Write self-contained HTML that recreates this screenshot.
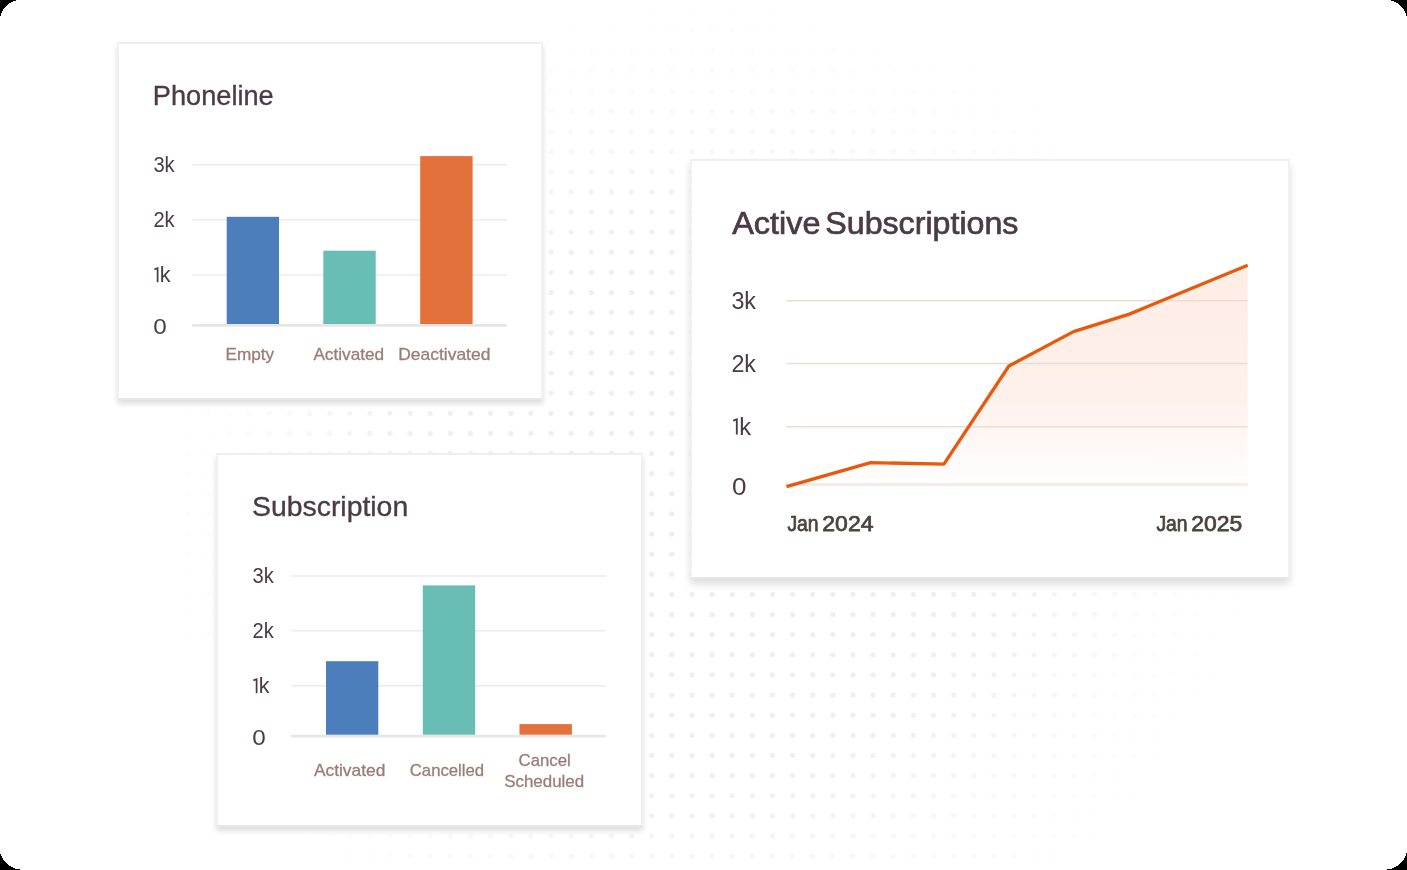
<!DOCTYPE html>
<html lang="en">
<head>
<meta charset="utf-8">
<title>Dashboard charts</title>
<style>
  html, body { margin: 0; padding: 0; }
  body {
    width: 1407px; height: 870px; overflow: hidden; position: relative;
    background: #ffffff;
    font-family: "Liberation Sans", sans-serif;
  }
  svg { position: absolute; left: 0; top: 0; display: block; }
  #fg { will-change: transform; }
  .card {
    position: absolute; box-sizing: border-box;
    background: #ffffff;
    border: 2px solid #f1f1f1; border-top-color: #efefef; border-bottom-color: #e7e7e7;
  }
  .c1 { left: 117px; top: 42px; width: 426px; height: 358px;
        box-shadow: 0 4px 5.5px rgba(0,0,0,0.135); }
  .c2 { left: 216px; top: 453px; width: 427px; height: 374px;
        box-shadow: 0 4px 5.5px rgba(0,0,0,0.135); }
  .c3 { left: 690px; top: 159px; width: 600px; height: 420px;
        box-shadow: 0 5px 7.5px rgba(0,0,0,0.135); }
  text { font-family: "Liberation Sans", sans-serif; }
  .title { fill: #4a3b44; stroke: #4a3b44; stroke-width: 0.35px; }
  .t3 { stroke-width: 0.7px; }
  .ax { fill: #4a3b44; }
  .xl { fill: #9a7d75; stroke: #9a7d75; stroke-width: 0.3px; }
  .dt { fill: #4b433f; stroke: #4b433f; stroke-width: 0.75px; }
</style>
</head>
<body>

<!-- dotted background -->
<svg id="bg" width="1407" height="870" viewBox="0 0 1407 870">
  <defs>
    <pattern id="dots" x="-2.56" y="0.63" width="20.13" height="20.13" patternUnits="userSpaceOnUse">
      <circle cx="10.065" cy="10.065" r="2.55" fill="#f0edec"/>
    </pattern>
    <radialGradient id="fade" gradientUnits="userSpaceOnUse" cx="703" cy="505" r="565" gradientTransform="translate(703 505) scale(1 0.92) translate(-703 -505)">
      <stop offset="0" stop-color="#fff" stop-opacity="1"/>
      <stop offset="0.48" stop-color="#fff" stop-opacity="0.95"/>
      <stop offset="0.60" stop-color="#fff" stop-opacity="0.75"/>
      <stop offset="0.70" stop-color="#fff" stop-opacity="0.48"/>
      <stop offset="0.80" stop-color="#fff" stop-opacity="0.25"/>
      <stop offset="0.90" stop-color="#fff" stop-opacity="0.10"/>
      <stop offset="1" stop-color="#fff" stop-opacity="0"/>
    </radialGradient>
    <mask id="m" maskUnits="userSpaceOnUse" x="0" y="0" width="1407" height="870">
      <rect width="1407" height="870" fill="url(#fade)"/>
    </mask>
  </defs>
  <rect width="1407" height="870" fill="url(#dots)" mask="url(#m)"/>
</svg>

<div class="card c1"></div>
<div class="card c2"></div>
<div class="card c3"></div>

<!-- chart content -->
<svg id="fg" width="1407" height="870" viewBox="0 0 1407 870">
  <defs>
    <linearGradient id="area" gradientUnits="userSpaceOnUse" x1="0" y1="265" x2="0" y2="490">
      <stop offset="0" stop-color="#feede5"/>
      <stop offset="0.55" stop-color="#fef0ea"/>
      <stop offset="1" stop-color="#ffffff"/>
    </linearGradient>
  </defs>

  <!-- ============ Phoneline ============ -->
  <g id="phoneline">
    <text class="title" x="152.8" y="105" font-size="27.8" textLength="120.9" lengthAdjust="spacingAndGlyphs">Phoneline</text>
    <g stroke="#ececec" stroke-width="1.6">
      <line x1="192.3" y1="164.8" x2="506.7" y2="164.8"/>
      <line x1="192.3" y1="219.8" x2="506.7" y2="219.8"/>
      <line x1="192.3" y1="275" x2="506.7" y2="275"/>
    </g>
    <line x1="192.3" y1="325.4" x2="506.7" y2="325.4" stroke="#e6e6e6" stroke-width="2.8"/>
    <rect x="226.7" y="216.8" width="52.3" height="107.2" fill="#4b7eba"/>
    <rect x="323.3" y="250.7" width="52.4" height="73.3" fill="#68bdb4"/>
    <rect x="420.2" y="156.1" width="52.4" height="167.9" fill="#e3713b"/>
    <g class="ax" font-size="21.3">
      <text x="153.4" y="172.4" textLength="21.3" lengthAdjust="spacingAndGlyphs">3k</text>
      <text x="153.4" y="227.2" textLength="21.3" lengthAdjust="spacingAndGlyphs">2k</text>
      <path d="M154.4 269.4 L157.6 268.2 L157.6 282.2" fill="none" stroke="#4a3b44" stroke-width="1.7"/><text x="159.8" y="282.4" textLength="10.8" lengthAdjust="spacingAndGlyphs">k</text>
      <text x="153.3" y="334.2" textLength="13.5" lengthAdjust="spacingAndGlyphs">0</text>
    </g>
    <g class="xl" font-size="16.4">
      <text x="225.6" y="360.2" textLength="48.6" lengthAdjust="spacingAndGlyphs">Empty</text>
      <text x="313.4" y="360.2" textLength="70.8" lengthAdjust="spacingAndGlyphs">Activated</text>
      <text x="398.2" y="360.2" textLength="92.2" lengthAdjust="spacingAndGlyphs">Deactivated</text>
    </g>
  </g>

  <!-- ============ Subscription ============ -->
  <g id="subscription">
    <text class="title" x="252" y="516.3" font-size="27.8" textLength="156.2" lengthAdjust="spacingAndGlyphs">Subscription</text>
    <g stroke="#ececec" stroke-width="1.6">
      <line x1="291.2" y1="576" x2="605.7" y2="576"/>
      <line x1="291.2" y1="630.8" x2="605.7" y2="630.8"/>
      <line x1="291.2" y1="685.8" x2="605.7" y2="685.8"/>
    </g>
    <line x1="291.2" y1="736.2" x2="605.7" y2="736.2" stroke="#e6e6e6" stroke-width="2.8"/>
    <rect x="326" y="661.2" width="52.3" height="73.5" fill="#4b7eba"/>
    <rect x="422.8" y="585.4" width="52.4" height="149.3" fill="#68bdb4"/>
    <rect x="519.5" y="724.1" width="52.4" height="10.6" fill="#e3713b"/>
    <g class="ax" font-size="21.3">
      <text x="252.5" y="583.4" textLength="21.3" lengthAdjust="spacingAndGlyphs">3k</text>
      <text x="252.5" y="638.4" textLength="21.3" lengthAdjust="spacingAndGlyphs">2k</text>
      <path d="M253.4 680.4 L256.6 679.2 L256.6 693.2" fill="none" stroke="#4a3b44" stroke-width="1.7"/><text x="258.8" y="693.4" textLength="10.8" lengthAdjust="spacingAndGlyphs">k</text>
      <text x="252.3" y="745.4" textLength="13.5" lengthAdjust="spacingAndGlyphs">0</text>
    </g>
    <g class="xl" font-size="16.4">
      <text x="313.9" y="776.2" textLength="71.4" lengthAdjust="spacingAndGlyphs">Activated</text>
      <text x="409.8" y="776.2" textLength="74.3" lengthAdjust="spacingAndGlyphs">Cancelled</text>
      <text x="518.5" y="766" textLength="52.3" lengthAdjust="spacingAndGlyphs">Cancel</text>
      <text x="504.2" y="786.5" textLength="80" lengthAdjust="spacingAndGlyphs">Scheduled</text>
    </g>
  </g>

  <!-- ============ Active Subscriptions ============ -->
  <g id="active">
    <text class="title t3" x="732.2" y="233.5" font-size="31.7" textLength="88.3" lengthAdjust="spacingAndGlyphs">Active</text>
    <text class="title t3" x="825.3" y="233.5" font-size="31.7" textLength="193.1" lengthAdjust="spacingAndGlyphs">Subscriptions</text>
    <path d="M786.5 486.6 L870.6 462.6 L943.9 464.2 L1008.9 366 L1073.5 331.6 L1129.3 314.1 L1247.7 265.3 L1247.7 490 L786.5 490 Z" fill="url(#area)"/>
    <g stroke="#ecdcd7" stroke-width="1.5">
      <line x1="786.3" y1="300.7" x2="1247.6" y2="300.7"/>
      <line x1="786.3" y1="363.6" x2="1247.6" y2="363.6"/>
      <line x1="786.3" y1="426.8" x2="1247.6" y2="426.8"/>
    </g>
    <line x1="786.3" y1="484.4" x2="1247.6" y2="484.4" stroke="#f6e9e6" stroke-width="3"/>
    <path d="M786.5 486.6 L870.6 462.6 L943.9 464.2 L1008.9 366 L1073.5 331.6 L1129.3 314.1 L1247.7 265.3" fill="none" stroke="#e8590c" stroke-width="3.3" stroke-linejoin="round"/>
    <g class="ax" font-size="23.3">
      <text x="731.4" y="308.7">3k</text>
      <text x="731.4" y="371.8">2k</text>
      <path d="M733.2 420.7 L736.8 419.4 L736.8 434.6" fill="none" stroke="#4a3b44" stroke-width="1.85"/><text x="739.2" y="434.8" textLength="11.8" lengthAdjust="spacingAndGlyphs">k</text>
      <text x="731.9" y="494.8" textLength="14.5" lengthAdjust="spacingAndGlyphs">0</text>
    </g>
    <g class="dt" font-size="21.9">
      <text x="787.4" y="530.9" textLength="31.2" lengthAdjust="spacingAndGlyphs">Jan</text><text x="822.3" y="530.9" textLength="51.2" lengthAdjust="spacingAndGlyphs">2024</text>
      <text x="1156.4" y="530.9" textLength="31.2" lengthAdjust="spacingAndGlyphs">Jan</text><text x="1191.3" y="530.9" textLength="51" lengthAdjust="spacingAndGlyphs">2025</text>
    </g>
  </g>
</svg>

<!-- black rounded corners -->
<svg id="corners" width="1407" height="870" viewBox="0 0 1407 870" shape-rendering="crispEdges">
  <path fill="#000000" d="M0 0h16v1h-16zM1391 0h16v1h-16zM0 1h13v1h-13zM1394 1h13v1h-13zM0 2h11v1h-11zM1396 2h11v1h-11zM0 3h9v1h-9zM1398 3h9v1h-9zM0 4h8v1h-8zM1399 4h8v1h-8zM0 5h7v1h-7zM1400 5h7v1h-7zM0 6h6v1h-6zM1401 6h6v1h-6zM0 7h5v1h-5zM1402 7h5v1h-5zM0 8h4v1h-4zM1403 8h4v1h-4zM0 9h3v1h-3zM1404 9h3v1h-3zM0 10h3v1h-3zM1404 10h3v1h-3zM0 11h2v1h-2zM1405 11h2v1h-2zM0 12h2v1h-2zM1405 12h2v1h-2zM0 13h1v1h-1zM1406 13h1v1h-1zM0 14h1v1h-1zM1406 14h1v1h-1zM0 15h1v1h-1zM1406 15h1v1h-1zM0 869h20v1h-20zM0 868h15v1h-15zM0 867h13v1h-13zM0 866h11v1h-11zM0 865h9v1h-9zM0 864h8v1h-8zM0 863h7v1h-7zM0 862h6v1h-6zM0 861h5v1h-5zM0 860h4v1h-4zM0 859h3v1h-3zM0 858h3v1h-3zM0 857h2v1h-2zM0 856h2v1h-2zM0 855h1v1h-1zM0 854h1v1h-1zM1387 869h20v1h-20zM1392 868h15v1h-15zM1394 867h13v1h-13zM1396 866h11v1h-11zM1398 865h9v1h-9zM1399 864h8v1h-8zM1400 863h7v1h-7zM1401 862h6v1h-6zM1402 861h5v1h-5zM1403 860h4v1h-4zM1404 859h3v1h-3zM1404 858h3v1h-3zM1405 857h2v1h-2zM1405 856h2v1h-2zM1406 855h1v1h-1zM1406 854h1v1h-1zM1406 853h1v1h-1z"/>
</svg>

</body>
</html>
